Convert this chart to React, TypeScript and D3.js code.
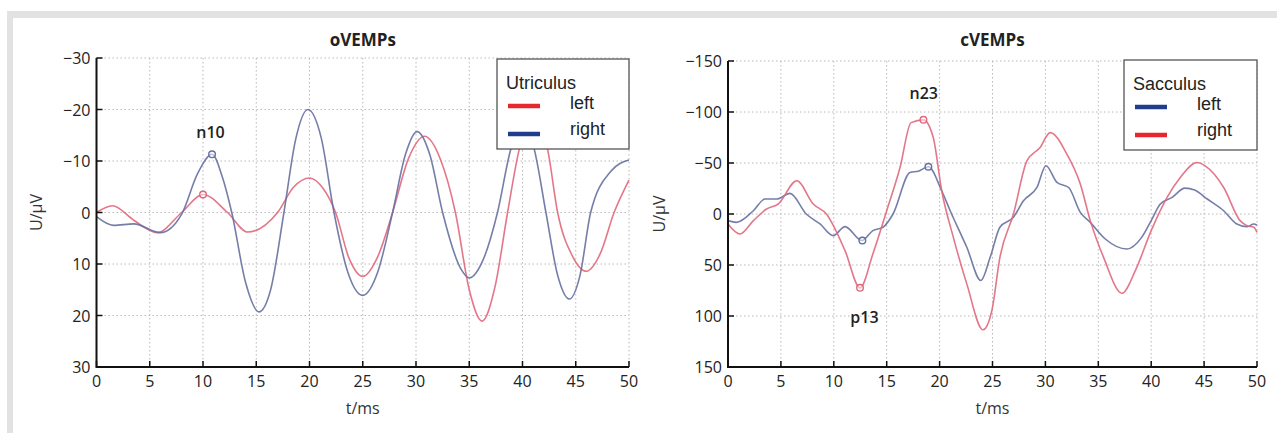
import React from "react";
import * as d3 from "d3";

// ---------- data ----------
const xTicks = [0, 5, 10, 15, 20, 25, 30, 35, 40, 45, 50];
const oTicks = [-30, -20, -10, 0, 10, 20, 30];
const cTicks = [-150, -100, -50, 0, 50, 100, 150];

// oVEMPs (Utriculus) — [t ms, U µV]
const oLeft: [number, number][] = [
  [0, 0], [1.5, -1.3], [3.5, 1.5], [5.7, 3.9], [8, 0], [10, -3.5], [12.3, 0], [14.2, 3.8],
  [17, 0], [18.5, -4.9], [20, -6.7], [21.3, -4.6], [22.45, 0], [23.7, 8.8], [25, 12.4],
  [26.4, 8.6], [27.8, 0], [29.3, -10.5], [30.8, -14.8], [32.3, -10.3], [33.7, 0],
  [35, 15], [36.2, 21.1], [37.4, 14.6], [38.6, 0], [39.7, -12.3], [41, -18.5], [42.35, -12.3],
  [43.3, 0], [44.7, 8.5], [46, 11.4], [47.3, 8], [48.6, 0], [50, -6.3],
];
const oRight: [number, number][] = [
  [0, 0.8], [1.6, 2.5], [3.5, 2.2], [6, 3.9], [8, 0.3], [9.5, -7.6], [10.85, -11.3], [11.8, -7],
  [12.7, 0], [14, 13.6], [15.25, 19.3], [16.35, 15], [17.6, 0], [18.7, -14.2], [19.85, -20],
  [21.1, -14.5], [22.3, 0], [23.6, 11.6], [25, 16.1], [26.4, 11.6], [27.8, 0], [29, -11.2],
  [30.1, -15.7], [31.3, -11.2], [32.5, 0], [34.2, 10.9], [35, 12.7], [36.3, 9.2], [37.65, 0],
  [38.9, -12.3], [40, -17.5], [41.1, -12.3], [42.2, 0], [43.3, 12.2], [44.4, 16.8], [45.4, 12.2],
  [46.4, 0], [48.3, -8], [50, -10.2],
];
const oMarkers = [
  { t: 10, v: -3.5, s: "left" },
  { t: 10.85, v: -11.3, s: "right" },
];

// cVEMPs (Sacculus)
const cLeft: [number, number][] = [
  [0, 6.5], [0.8, 8.2], [2.4, -3.2], [3.5, -14.7], [4.6, -14.7], [5.86, -20.2], [7.4, 0],
  [8.7, 9.8], [9.95, 21.2], [11.06, 12.4], [12.64, 26], [13.7, 16.3], [14.65, 13], [15.6, 0],
  [17.2, -40.7], [17.98, -42], [18.94, -46.3], [20.2, -22.8], [21, -3.2], [22.57, 32.6],
  [23.9, 65.2], [24.78, 42.5], [25.7, 13], [26.98, 3.2], [27.93, -13], [29.2, -26],
  [30.05, -47.3], [31.09, -31], [32.2, -26], [33.3, -1.6], [34.24, 8.2], [35.66, 24.5],
  [37.7, 34.3], [39.1, 22.9], [40, 6.5], [40.86, -9.8], [41.97, -16.3], [43.2, -25.4],
  [44.1, -23.5], [45.3, -14.7], [46.85, -3.2], [48.1, 9.8], [49.06, 12.4], [49.7, 9.8], [50, 11],
];
const cRight: [number, number][] = [
  [0, 9.8], [1.13, 19.6], [2.4, 6.5], [3.65, -4.9], [4.75, -9.8], [6.5, -32.6], [8.06, -9.8],
  [9.3, 0], [11.06, 35.9], [12.48, 72.4], [13.7, 39], [15, -3.2], [16.26, -45.6], [17.3, -89.6],
  [18.47, -92.3], [19.4, -75], [20.2, -22.8], [21.3, 22.9], [22.57, 68.5], [24.1, 113.5],
  [24.94, 94.6], [25.7, 42.5], [26.98, 0], [28.25, -52], [29.5, -65.2], [30.45, -79.8],
  [32.03, -58.7], [33.3, -29.4], [34.24, 6.5], [35.5, 42.5], [37.24, 77.7], [38.5, 55.5],
  [40, 16.3], [41.5, -16.3], [42.75, -35.8], [44.33, -50.5], [45.1, -47.2], [46.85, -26],
  [48.4, 6.5], [49.06, 11.4], [49.7, 13], [50, 18],
];
const cMarkers = [
  { t: 12.7, v: 26, s: "left" },
  { t: 12.48, v: 72.4, s: "right" },
  { t: 18.47, v: -92.3, s: "right" },
  { t: 18.94, v: -46.3, s: "left" },
];

const RED = "#e0687c";
const BLUE = "#66709f";
const RED_SW = "#e8262e";
const BLUE_SW = "#223c8e";
const TICK_FONT = "'Open Sans', sans-serif";
const LEG_FONT = "'Liberation Sans', Arial, sans-serif";

type PanelProps = {
  title: string;
  xr: [number, number];
  yr: [number, number];
  ydom: [number, number];
  yticks: number[];
  series: { data: [number, number][]; color: string; name: string }[];
  markers: { t: number; v: number; s: string }[];
  annots: { text: string; t: number; v: number }[];
  legend: { x: number; y: number; w: number; h: number; title: string; items: { name: string; color: string }[] };
  ylabX: number;
};

function Panel(p: PanelProps) {
  const x = d3.scaleLinear().domain([0, 50]).range(p.xr);
  const y = d3.scaleLinear().domain(p.ydom).range(p.yr);
  const line = d3
    .line<[number, number]>()
    .x((d) => x(d[0]))
    .y((d) => y(d[1]))
    .curve(d3.curveMonotoneX);
  const [x0, x1] = p.xr;
  const [y0, y1] = p.yr;
  const colorOf = (s: string) => p.series.find((q) => q.name === s)!.color;
  const fmt = (v: number) => (v < 0 ? "\u2212" + Math.abs(v) : String(v));
  return (
    <g>
      {/* grid */}
      {xTicks.map((t) => (
        <line key={"gx" + t} x1={x(t)} x2={x(t)} y1={y0} y2={y1} stroke="#b8b8b8" strokeWidth={1} strokeDasharray="1.5,2.5" />
      ))}
      {p.yticks.map((t) => (
        <line key={"gy" + t} x1={x0} x2={x1} y1={y(t)} y2={y(t)} stroke="#b8b8b8" strokeWidth={1} strokeDasharray="1.5,2.5" />
      ))}
      {/* series */}
      {p.series.map((s) => (
        <path key={s.name} d={line(s.data)!} fill="none" stroke={s.color} strokeWidth={1.6} strokeOpacity={0.9} />
      ))}
      {p.markers.map((m, i) => (
        <circle key={"m" + i} cx={x(m.t)} cy={y(m.v)} r={3.3} fill="#fff" fillOpacity={0.5} stroke={colorOf(m.s)} strokeWidth={1.4} />
      ))}
      {p.annots.map((a) => (
        <text key={a.text} x={x(a.t)} y={y(a.v)} textAnchor="middle" fontFamily={TICK_FONT} fontWeight={600} fontSize={16} fill="#222">
          {a.text}
        </text>
      ))}
      {/* axes */}
      <line x1={x0} x2={x1} y1={y1} y2={y1} stroke="#111" strokeWidth={2} />
      <line x1={x0} x2={x0} y1={y0} y2={y1 + 1} stroke="#111" strokeWidth={2} />
      {xTicks.map((t) => (
        <g key={"xt" + t}>
          <line x1={x(t)} x2={x(t)} y1={y1} y2={y1 - 6} stroke="#111" strokeWidth={1.5} />
          <text x={x(t)} y={y1 + 20} textAnchor="middle" fontFamily={TICK_FONT} fontSize={16} fill="#222">
            {t}
          </text>
        </g>
      ))}
      {p.yticks.map((t) => (
        <g key={"yt" + t}>
          <line x1={x0} x2={x0 + 6} y1={y(t)} y2={y(t)} stroke="#111" strokeWidth={1.5} />
          <text x={x0 - 6} y={y(t) + 6} textAnchor="end" fontFamily={TICK_FONT} fontSize={16} fill="#222">
            {fmt(t)}
          </text>
        </g>
      ))}
      {/* labels */}
      <text x={(x0 + x1) / 2} y={46} textAnchor="middle" fontFamily={TICK_FONT} fontWeight={700} fontSize={17} fill="#222">
        {p.title}
      </text>
      <text x={(x0 + x1) / 2} y={414} textAnchor="middle" fontFamily={TICK_FONT} fontSize={16} fill="#333">
        t/ms
      </text>
      <text transform={`translate(${p.ylabX},${(y0 + y1) / 2}) rotate(-90)`} textAnchor="middle" fontFamily={TICK_FONT} fontSize={16} fill="#333">
        U/µV
      </text>
      {/* legend */}
      <rect x={p.legend.x} y={p.legend.y} width={p.legend.w} height={p.legend.h} fill="#fff" stroke="#555" strokeWidth={1.3} />
      <text x={p.legend.x + 9} y={p.legend.y + 30} fontFamily={LEG_FONT} fontSize={18} fill="#222">
        {p.legend.title}
      </text>
      {p.legend.items.map((it, i) => (
        <g key={it.name}>
          <line x1={p.legend.x + 11} x2={p.legend.x + 43} y1={p.legend.y + 47 + i * 28} y2={p.legend.y + 47 + i * 28} stroke={it.color} strokeWidth={4.5} />
          <text x={p.legend.x + 73} y={p.legend.y + 50 + i * 26} fontFamily={LEG_FONT} fontSize={18} fill="#222">
            {it.name}
          </text>
        </g>
      ))}
    </g>
  );
}

export default function App() {
  return (
    <svg width={1277} height={433} style={{ position: "absolute", left: 0, top: 0, background: "#fff" }}>
      <rect x={7} y={11} width={1270} height={7} fill="#e2e2e2" />
      <rect x={7} y={11} width={6} height={422} fill="#e2e2e2" />
      <Panel
        title="oVEMPs"
        xr={[96.5, 629]}
        yr={[58, 367]}
        ydom={[-30, 30]}
        yticks={oTicks}
        series={[
          { data: oLeft, color: RED, name: "left" },
          { data: oRight, color: BLUE, name: "right" },
        ]}
        markers={oMarkers}
        annots={[{ text: "n10", t: 10.7, v: -14.5 }]}
        legend={{ x: 497, y: 59, w: 132, h: 90, title: "Utriculus", items: [{ name: "left", color: RED_SW }, { name: "right", color: BLUE_SW }] }}
        ylabX={42}
      />
      <Panel
        title="cVEMPs"
        xr={[728, 1257]}
        yr={[61, 367]}
        ydom={[-150, 150]}
        yticks={cTicks}
        series={[
          { data: cLeft, color: BLUE, name: "left" },
          { data: cRight, color: RED, name: "right" },
        ]}
        markers={cMarkers}
        annots={[
          { text: "n23", t: 18.5, v: -113 },
          { text: "p13", t: 12.9, v: 107 },
        ]}
        legend={{ x: 1124, y: 60, w: 133, h: 90, title: "Sacculus", items: [{ name: "left", color: BLUE_SW }, { name: "right", color: RED_SW }] }}
        ylabX={665}
      />
    </svg>
  );
}
